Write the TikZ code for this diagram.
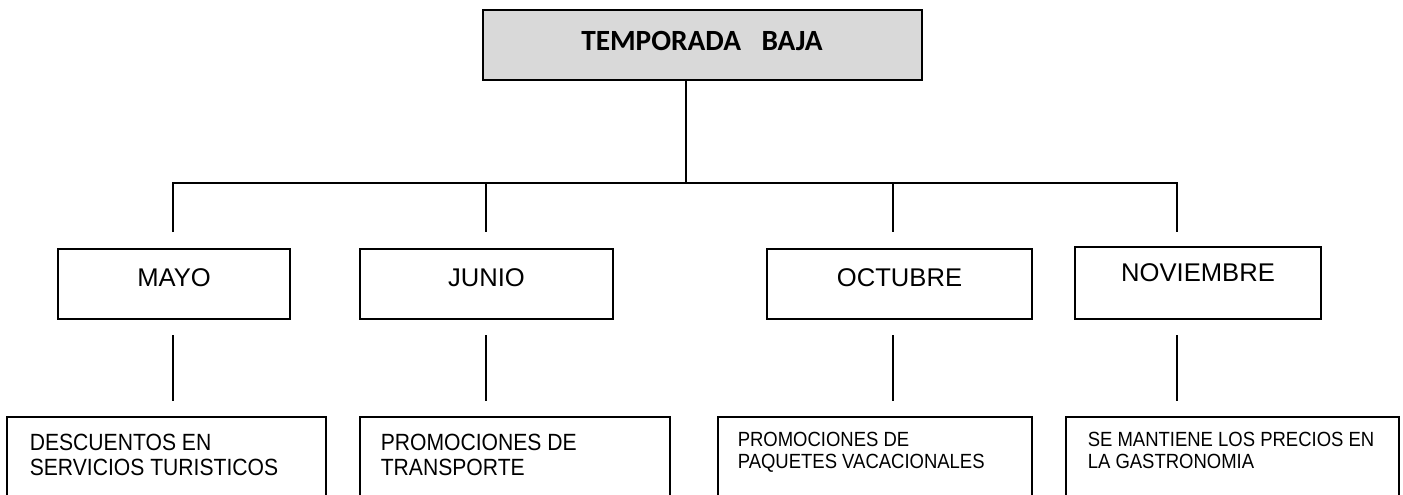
\documentclass[tikz,border=0pt]{standalone}
\usepackage{fontspec}
\setmainfont{Liberation Sans}
\newfontfamily\calibri{Carlito}
\newfontfamily\angosta[FakeStretch=0.9]{Liberation Sans}

\tikzset{every picture/.style={line width=1.2pt}}
\tikzset{
  caja/.style={draw, rectangle, inner sep=0pt},
  mestxt/.style={inner sep=0pt, font=\fontsize{19.2}{23}\selectfont},
  desctxt/.style={inner sep=0pt, anchor=north west, align=left, font=\angosta\fontsize{17.6}{18.75}\selectfont},
  desctxtsm/.style={inner sep=0pt, anchor=north west, align=left, font=\angosta\fontsize{15.4}{16.5}\selectfont}
}

\begin{document}
\begin{tikzpicture}[x=0.75pt,y=0.75pt,yscale=-1,xscale=1]
    \useasboundingbox (0,0) rectangle (1403,494);
    \clip (0,0) rectangle (1403,494);

    %Shape: Rectangle [baja]
    \node[caja, fill={rgb, 255:red, 217; green, 217; blue, 217}, minimum width=329.25pt, minimum height=52.5pt] (baja) at (702.5,45) {};
    % Text Node
    \node[inner sep=0pt, font=\calibri\bfseries\fontsize{22}{26}\selectfont] (bajatxt) at (702,41) {TEMPORADA\hspace{0.7em}BAJA};

    %Shape: Rectangle [meses]
    \node[caja, minimum width=174pt, minimum height=52.5pt] (mayo) at (174,284) {};
    \node[caja, minimum width=189.75pt, minimum height=52.5pt] (junio) at (486.5,284) {};
    \node[caja, minimum width=198.75pt, minimum height=52.5pt] (octubre) at (899.5,284) {};
    \node[caja, minimum width=184.5pt, minimum height=54pt] (noviembre) at (1198,283) {};
    % Text Node
    \node[mestxt] (mayotxt) at (174,278) {MAYO};
    \node[mestxt] (juniotxt) at (486.5,278) {JUNIO};
    \node[mestxt] (octubretxt) at (899.5,278) {OCTUBRE};
    \node[mestxt] (noviembretxt) at (1198,273) {NOVIEMBRE};

    %Shape: Rectangle [acciones]
    \node[caja, minimum width=239.25pt, minimum height=77.25pt] (desc) at (166.5,468.5) {};
    \node[caja, minimum width=232.5pt, minimum height=77.25pt] (promo) at (515,468.5) {};
    \node[caja, minimum width=235.5pt, minimum height=77.25pt] (paq) at (875,468.5) {};
    \node[caja, minimum width=249.75pt, minimum height=77.25pt] (gastro) at (1232.5,468.5) {};
    % Text Node
    \node[desctxt] (desctxt) at (29,433) {DESCUENTOS EN\\SERVICIOS TURISTICOS};
    \node[desctxt] (promotxt) at (380,433) {PROMOCIONES DE\\TRANSPORTE};
    \node[desctxtsm] (paqtxt) at (737,431.5) {PROMOCIONES DE\\PAQUETES VACACIONALES};
    \node[desctxtsm] (gastrotxt) at (1087,431.5) {SE MANTIENE LOS PRECIOS EN\\LA GASTRONOMIA};

    %Straight Lines [ramas]
    \coordinate (bus) at (686,183);
    \foreach \i/\x in {1/173,2/486,3/893,4/1177} {
      \coordinate (up\i) at (\x,183);
      \coordinate (dn\i) at (\x,232);
      \coordinate (lo\i) at (\x,335);
      \coordinate (hi\i) at (\x,401);
      \draw (lo\i) -- (hi\i);
    }
    \draw (baja.south -| bus) -- (bus);
    \draw (dn1) -- (up1) -- (up4) -- (dn4);
    \draw (up2) -- (dn2);
    \draw (up3) -- (dn3);

\end{tikzpicture}
\end{document}
